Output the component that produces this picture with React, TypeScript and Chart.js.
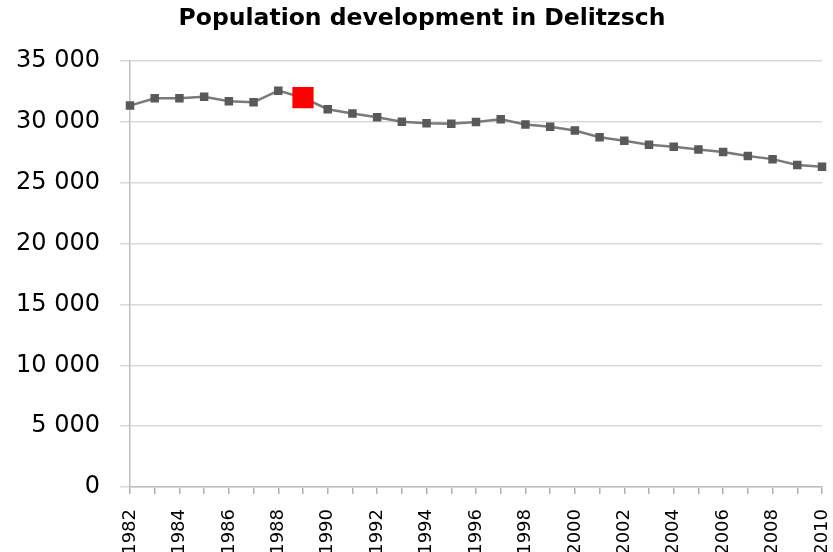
import React, { useEffect, useRef } from "react";
import { Chart, registerables } from "chart.js";

Chart.register(...registerables);

const years = [
  "1982", "1983", "1984", "1985", "1986", "1987", "1988", "1989", "1990", "1991",
  "1992", "1993", "1994", "1995", "1996", "1997", "1998", "1999", "2000", "2001",
  "2002", "2003", "2004", "2005", "2006", "2007", "2008", "2009", "2010",
];
const population = [
  31350, 31950, 31950, 32080, 31700, 31620, 32580, 32000, 31050, 30700,
  30400, 30030, 29890, 29860, 30000, 30220, 29800, 29610, 29300, 28750,
  28470, 28140, 27970, 27750, 27530, 27200, 26950, 26470, 26330,
];
const highlightYear = "1989";
const yTickValues = [0, 5000, 10000, 15000, 20000, 25000, 30000, 35000];
const titleText = "Population development in Delitzsch";

function fmt(n: number): string {
  if (n < 1000) return String(n);
  const th = Math.floor(n / 1000);
  const rest = String(n % 1000).padStart(3, "0");
  return `${th} ${rest}`;
}

// shifts the title box so its centre matches the reference
const titleShift = {
  id: "titleShift",
  afterLayout(chart: any) {
    const t = chart.titleBlock;
    if (t) {
      t.left += 22;
    }
  },
};

export default function App() {
  const ref = useRef<HTMLCanvasElement | null>(null);
  useEffect(() => {
    if (!ref.current) return;
    const pointColors = years.map((y) => (y === highlightYear ? "#ff0000" : "#595959"));
    const pointRadii = years.map((y) => (y === highlightYear ? 15 : 6));
    const chart = new Chart(ref.current, {
      type: "line",
      data: {
        labels: years,
        datasets: [
          {
            data: population,
            borderColor: "#7a7a7a",
            borderWidth: 2.5,
            pointStyle: "rect",
            pointRadius: pointRadii,
            pointHoverRadius: pointRadii,
            pointBackgroundColor: pointColors,
            pointBorderColor: pointColors,
            pointBorderWidth: 0,
            tension: 0,
          },
        ],
      },
      plugins: [titleShift],
      options: {
        animation: false,
        responsive: false,
        maintainAspectRatio: false,
        layout: { padding: { left: 0, right: 11, top: 0, bottom: 0 } },
        plugins: {
          legend: { display: false },
          tooltip: { enabled: false },
          title: {
            display: true,
            text: titleText,
            color: "#000000",
            font: { family: "DejaVu Sans", weight: "bold", size: 23.5, lineHeight: 1.2 },
            padding: { top: 5, bottom: 28 },
          },
        },
        scales: {
          x: {
            type: "category",
            offset: false,
            grid: {
              display: true,
              drawOnChartArea: false,
              drawTicks: true,
              tickLength: 7,
              color: "#b0b0b0",
              lineWidth: 1.5,
            },
            border: { display: true, color: "#bfbfbf", width: 1.5 },
            ticks: {
              autoSkip: false,
              minRotation: 90,
              maxRotation: 90,
              padding: 15,
              color: "#000000",
              font: { family: "DejaVu Sans", size: 18 },
              callback: (_v: any, idx: number) => (idx % 2 === 0 ? years[idx] : ""),
            },
            afterFit: (scale: any) => {
              scale.height = 65;
              scale.paddingRight = 0;
              scale.paddingLeft = 0;
            },
          },
          y: {
            min: 0,
            max: 35000,
            afterBuildTicks: (scale: any) => {
              scale.ticks = yTickValues.map((v) => ({ value: v }));
            },
            grid: { color: "#d9d9d9", tickLength: 10, lineWidth: 1.5 },
            border: { display: true, color: "#bfbfbf", width: 1.5 },
            ticks: {
              padding: 20,
              color: "#000000",
              font: { family: "DejaVu Sans", size: 24 },
              callback: (v: any) => fmt(Number(v)),
            },
            afterFit: (scale: any) => {
              scale.width = 130;
            },
          },
        },
      },
    });
    return () => chart.destroy();
  }, []);
  return (
    <div style={{ position: "fixed", left: 0, top: 0, width: 833, height: 552, background: "#fff" }}>
      <canvas ref={ref} width={833} height={552} style={{ width: 833, height: 552 }} />
    </div>
  );
}
